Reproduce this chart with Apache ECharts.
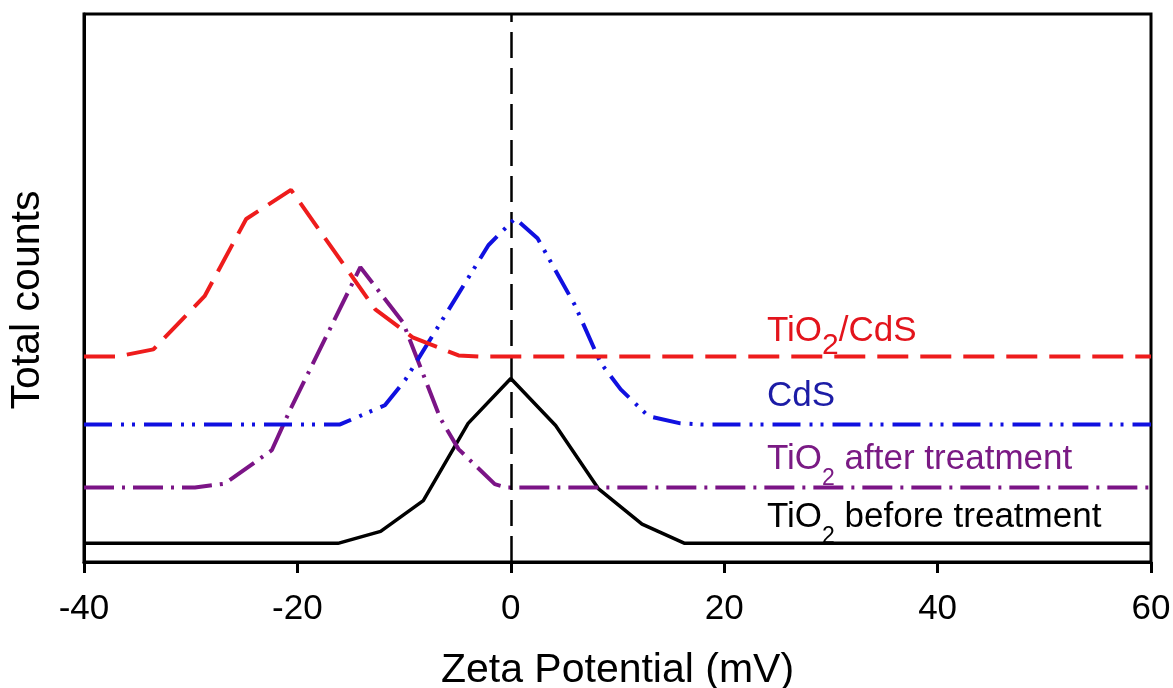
<!DOCTYPE html>
<html>
<head>
<meta charset="utf-8">
<script src="https://cdn.jsdelivr.net/npm/echarts@6/dist/echarts.min.js"></script>
<style>
  html, body { margin: 0; padding: 0; background: #fff; }
  #chart { width: 1173px; height: 688px; }
</style>
</head>
<body>
<div id="chart"></div>
<script>
var FONT = 'Arial, "Liberation Sans", sans-serif';

// x tick values (mV)
var xTicks = [-40, -20, 0, 20, 40, 60];

// TiO2 before treatment (black, solid)
var beforeX = [-40, -16.2, -12.2, -8.2, -4.0, 0.0, 4.2, 8.2, 12.3, 16.3, 60];
var beforeY = [3.4, 3.4, 5.6, 11.2, 25.3, 33.5, 24.9, 13.4, 6.9, 3.4, 3.4];

// TiO2 after treatment (purple, dash-dot)
var afterX = [-40, -29.6, -26.8, -22.4, -20.7, -14.1, -10.1, -6.6, -4.9, -1.5, -0.4, 60];
var afterY = [13.6, 13.6, 14.3, 20.4, 27.7, 53.8, 43.7, 26.2, 20.6, 14.2, 13.6, 13.6];

// CdS (blue, dash-dot-dot)
var cdsX = [-40, -16.0, -11.8, -9.9, -2.1, 0.4, 2.5, 6.0, 8.4, 10.3, 12.9, 15.9, 17.8, 60];
var cdsY = [25.1, 25.1, 28.6, 33.2, 57.8, 62.7, 59.1, 46.9, 36.4, 31.5, 26.6, 25.3, 25.1, 25.1];

// TiO2/CdS (red, dashed)
var compX = [-40, -36.9, -33.5, -28.7, -24.8, -20.6, -12.7, -9.2, -4.9, -2.9, 60];
var compY = [37.5, 37.5, 38.8, 48.5, 62.6, 67.9, 46.1, 41.0, 37.7, 37.5, 37.5];

function pairs(xs, ys) {
    return xs.map(function (x, i) { return [x, ys[i]]; });
}

function label(left, top, color, text) {
    return {
        type: 'text',
        left: left,
        top: top,
        z: 100,
        style: {
            text: text,
            rich: {
                a: { fontSize: 35, lineHeight: 42, verticalAlign: 'top', fill: color, fontFamily: FONT },
                s: { fontSize: 23, lineHeight: 23, padding: [25, 0, 0, 0], verticalAlign: 'top', fill: color, fontFamily: FONT },
                b: { fontSize: 30, lineHeight: 30, padding: [17, 0, 0, 0], verticalAlign: 'top', fill: color, fontFamily: FONT }
            }
        }
    };
}

var chart = echarts.init(document.getElementById('chart'));

var option = {
    backgroundColor: '#fff',
    animation: false,
    grid: {
        left: 84, right: 22, top: 14, bottom: 126,
        outerBoundsMode: 'none',
        containLabel: false,
        show: true, borderColor: '#000', borderWidth: 3
    },
    xAxis: {
        type: 'value',
        min: xTicks[0],
        max: xTicks[xTicks.length - 1],
        interval: 20,
        name: 'Zeta Potential (mV)',
        nameLocation: 'middle',
        nameGap: 88,
        nameTextStyle: { fontSize: 41, color: '#000', fontFamily: FONT },
        axisLine: { show: true, onZero: false, lineStyle: { color: '#000', width: 3 } },
        axisTick: { show: true, length: 11, lineStyle: { color: '#000', width: 3 } },
        axisLabel: { fontSize: 35, color: '#000', margin: 30, fontFamily: FONT },
        splitLine: { show: false }
    },
    yAxis: {
        type: 'value',
        min: 0,
        max: 100,
        axisLine: { show: true, onZero: false, lineStyle: { color: '#000', width: 3 } },
        axisTick: { show: false },
        axisLabel: { show: false },
        splitLine: { show: false }
    },
    graphic: [
        {
            type: 'text', x: 28, y: 300, rotation: Math.PI / 2,
            style: {
                text: 'Total counts', fontSize: 41, fill: '#000', fontFamily: FONT,
                align: 'center', verticalAlign: 'middle'
            }
        },
        label(767, 314, '#e3141c', '{a|TiO}{b|2}{a|/CdS}'),
        label(767, 379, '#1c1ca6', '{a|CdS}'),
        label(767, 442, '#7a1a84', '{a|TiO}{s|2}{a| after treatment}'),
        label(767, 500, '#000', '{a|TiO}{s|2}{a| before treatment}')
    ],
    series: [
        {
            name: 'TiO2 before treatment',
            type: 'line',
            showSymbol: false,
            data: pairs(beforeX, beforeY),
            lineStyle: { color: '#000', width: 3.5 },
            z: 3,
            markLine: {
                silent: true,
                symbol: 'none',
                label: { show: false },
                lineStyle: { color: '#000', width: 2.5, type: [26, 10] },
                data: [{ xAxis: 0 }]
            }
        },
        {
            name: 'TiO2 after treatment',
            type: 'line',
            showSymbol: false,
            data: pairs(afterX, afterY),
            lineStyle: { color: '#7b1486', width: 4, type: [30, 8, 3, 8] },
            z: 4
        },
        {
            name: 'CdS',
            type: 'line',
            showSymbol: false,
            data: pairs(cdsX, cdsY),
            lineStyle: { color: '#1010e0', width: 4, type: [28, 9, 3, 8, 3, 9] },
            z: 5
        },
        {
            name: 'TiO2/CdS',
            type: 'line',
            showSymbol: false,
            data: pairs(compX, compY),
            lineStyle: { color: '#ee1c1c', width: 4, type: [31, 12] },
            z: 6
        }
    ]
};

chart.setOption(option);
</script>
</body>
</html>
